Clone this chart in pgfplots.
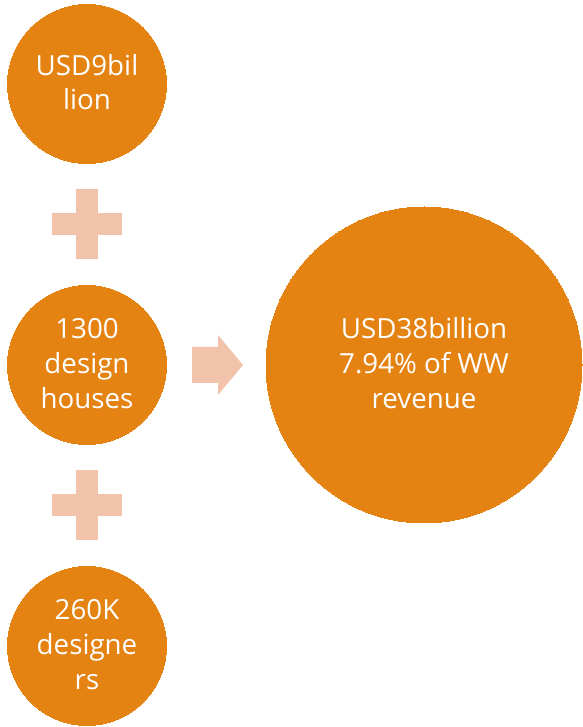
\documentclass[border=0pt]{standalone}
\usepackage{pgfplots}
\pgfplotsset{compat=1.18}
\usepackage{fontspec}
\setmainfont{Open Sans}
\definecolor{orng}{RGB}{228,131,18}
\definecolor{peach}{RGB}{241,195,170}
% 1 px of the reference = 0.75pt
\begin{document}
\begin{tikzpicture}[
    lbl/.style={font=\fontsize{20.8}{25}\selectfont, text=white, anchor=base, inner sep=0pt},
]
\begin{axis}[
    width=435.75pt, height=545.25pt,
    scale only axis,
    xmin=0, xmax=581, ymin=0, ymax=727,
    y dir=reverse,
    hide axis,
    clip=true,
    set layers,
]
% frame (invisible)
\addplot[draw=none] coordinates {(0,0) (581,727)};
% small circles
\addplot[only marks, mark=*, mark size=59.6pt,
    mark options={fill=orng, draw=orng, line width=0pt}]
    coordinates {(87,84) (87,365) (87,646)};
% big circle
\addplot[only marks, mark=*, mark size=118.5pt,
    mark options={fill=orng, draw=orng, line width=0pt}]
    coordinates {(424,365)};
% plus signs
\addplot[only marks, mark=+, mark size=26.25pt,
    mark options={draw=peach, line width=16.5pt}]
    coordinates {(87,224) (87,505)};
% arrow
\addplot[fill=peach, draw=none]
    coordinates {(192,347) (218,347) (218,335) (243,365) (218,395) (218,383) (192,383)} -- cycle;

\begin{pgfonlayer}{axis foreground}
\node[lbl] at (axis cs:87,76) {USD9bil};
\node[lbl] at (axis cs:87,110) {lion};
\node[lbl] at (axis cs:87,339) {1300};
\node[lbl] at (axis cs:87,374) {design};
\node[lbl] at (axis cs:87,409) {houses};
\node[lbl] at (axis cs:87,620) {260K};
\node[lbl] at (axis cs:87,655) {designe};
\node[lbl] at (axis cs:87,690) {rs};
\node[lbl] at (axis cs:424,339) {USD38billion};
\node[lbl] at (axis cs:424,374) {7.94\% of WW};
\node[lbl] at (axis cs:424,409) {revenue};
\end{pgfonlayer}
\end{axis}
\end{tikzpicture}
\end{document}
